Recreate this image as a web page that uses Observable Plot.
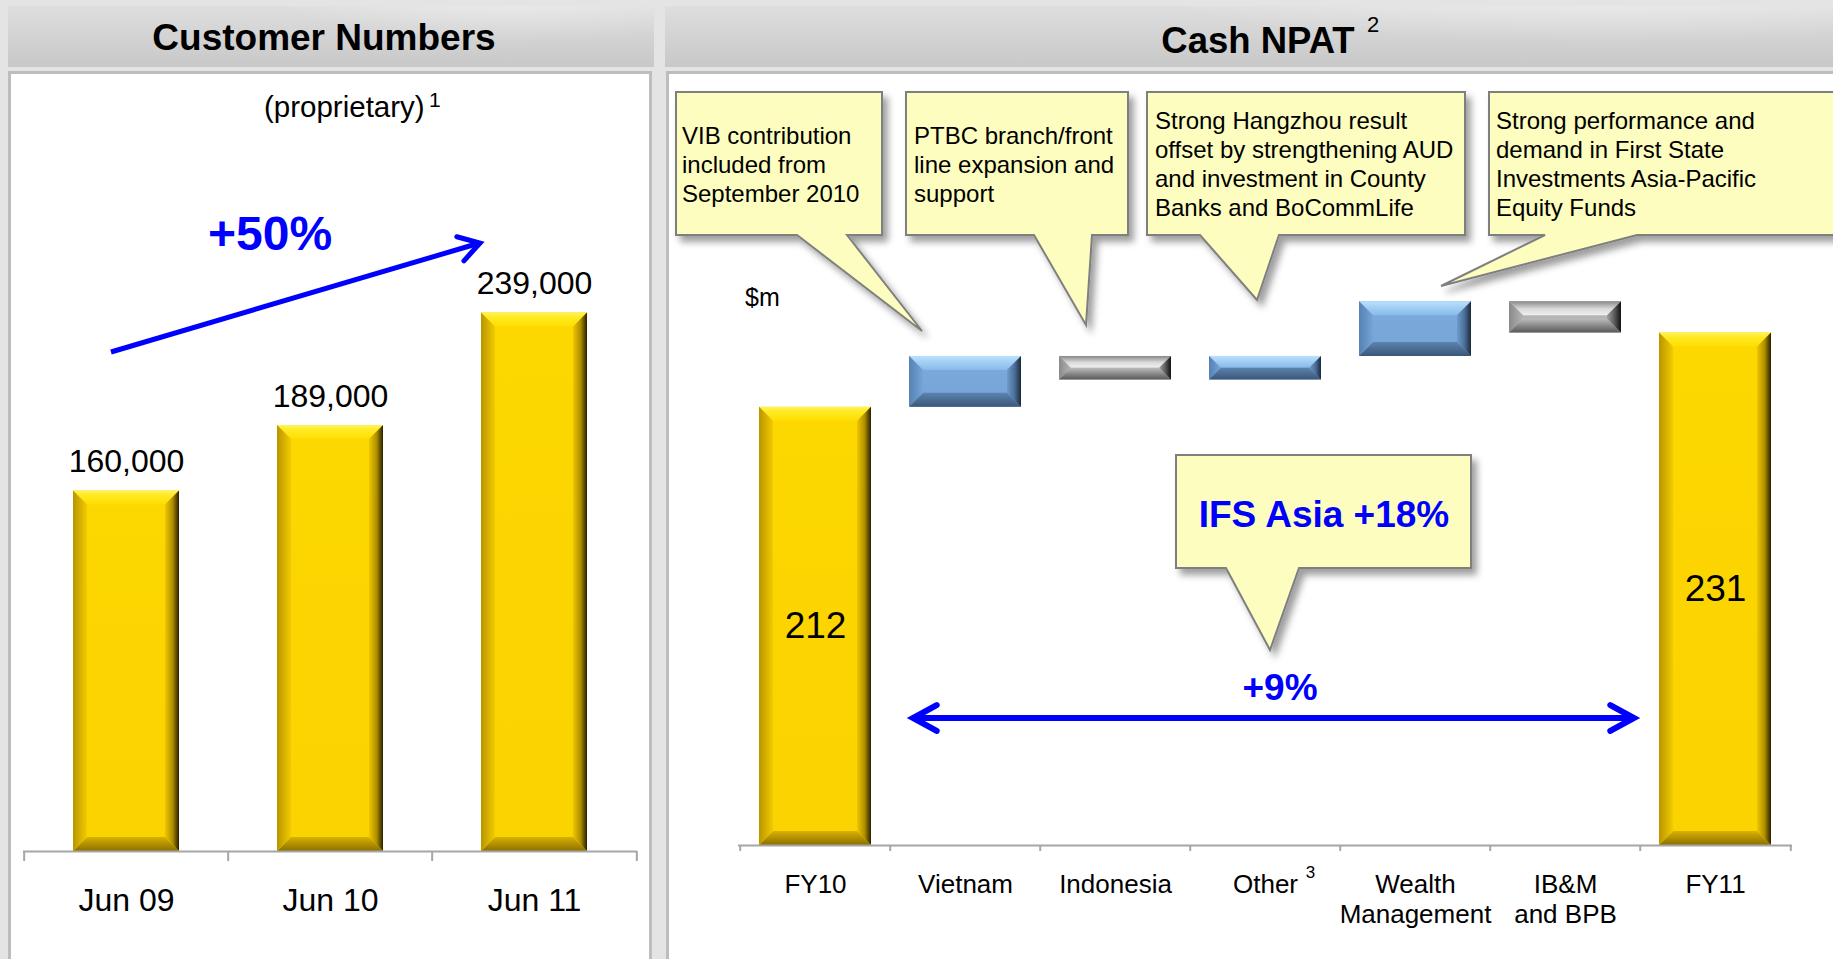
<!DOCTYPE html>
<html>
<head>
<meta charset="utf-8">
<script src="https://cdn.jsdelivr.net/npm/d3@7"></script>
<script src="https://cdn.jsdelivr.net/npm/@observablehq/plot@0.6"></script>
<style>
html, body { margin: 0; padding: 0; }
body { width: 1833px; height: 959px; background: #e4e4e4; position: relative; overflow: hidden;
       font-family: "Liberation Sans", Arial, sans-serif; }
.hdr { position: absolute; top: 6px; height: 61px;
       background: radial-gradient(ellipse 55% 130% at 78% -30%, rgba(255,255,255,0.45), rgba(255,255,255,0) 70%),
                   linear-gradient(#dedede, #c8c8c8); }
.panel { position: absolute; top: 71px; height: 920px; background: #fff; border: 3px solid #bdbdbd; box-sizing: border-box; }
.layer { position: absolute; top: 0; }
</style>
</head>
<body>
<div class="hdr" style="left:8px;width:646px;"></div>
<div class="hdr" style="left:665px;width:1200px;"></div>
<div class="panel" style="left:8px;width:644px;"></div>
<div class="panel" style="left:666px;width:1200px;"></div>
<script>
// ---------------- data ----------------
const customerPeriods = ["Jun 09", "Jun 10", "Jun 11"];
const customerCounts = [160000, 189000, 239000];

const npatCategories = ["FY10", "Vietnam", "Indonesia", "Other", "Wealth Management", "IB&M and BPB", "FY11"];
const npatTickLabels = ["FY10", "Vietnam", "Indonesia", "Other", "Wealth\nManagement", "IB&M\nand BPB", "FY11"];
const npatValues = [212, 13, -6, 6, 14, -8, 231];
const npatIsTotal = [true, false, false, false, false, false, true];

const calloutTexts = [
  ["VIB contribution", "included from", "September 2010"],
  ["PTBC branch/front", "line expansion and", "support"],
  ["Strong Hangzhou result", "offset by strengthening AUD", "and investment in County", "Banks and BoCommLife"],
  ["Strong performance and", "demand in First State", "Investments Asia-Pacific", "Equity Funds"]
];

// ---------------- shared defs ----------------
const FONT = '"Liberation Sans", Arial, sans-serif';
const defsSvg = d3.select("body").append("svg").attr("width", 1).attr("height", 1)
  .style("position", "absolute").style("left", 0).style("top", 0);
const defs = defsSvg.append("defs");
function lg(id, horizontal, stops) {
  const g = defs.append("linearGradient").attr("id", id)
    .attr("x1", 0).attr("y1", 0).attr("x2", horizontal ? 1 : 0).attr("y2", horizontal ? 0 : 1);
  stops.forEach(([o, c]) => g.append("stop").attr("offset", o).attr("stop-color", c));
}
const palettes = {
  gold: {
    face: [[0, "#FDD700"], [1, "#FBD300"]],
    top: [[0, "#FFF35C"], [0.35, "#FFEA22"], [1, "#FFDE00"]],
    left: [[0, "#B89500"], [1, "#F2CB00"]],
    right: [[0, "#EEC700"], [0.55, "#AE8D00"], [1, "#282000"]],
    bottom: [[0, "#D8B200"], [1, "#8C6F00"]]
  },
  blue: {
    face: [[0, "#7CAADC"], [1, "#76A4D7"]],
    top: [[0, "#BCE0FB"], [0.4, "#A5D1F6"], [1, "#88BAE9"]],
    left: [[0, "#5581B4"], [1, "#77A5D8"]],
    right: [[0, "#6E9BCD"], [0.55, "#4A6D96"], [1, "#1B293A"]],
    bottom: [[0, "#5D83AF"], [1, "#3A5778"]]
  },
  gray: {
    face: [[0, "#C4C4C4"], [1, "#A6A6A6"]],
    top: [[0, "#878787"], [0.55, "#DADADA"], [1, "#F0F0F0"]],
    left: [[0, "#8A8A8A"], [1, "#B4B4B4"]],
    right: [[0, "#A0A0A0"], [0.55, "#575757"], [1, "#121212"]],
    bottom: [[0, "#BDBDBD"], [0.5, "#8A8A8A"], [1, "#5A5A5A"]]
  }
};
for (const [name, p] of Object.entries(palettes)) {
  lg(`${name}-face`, false, p.face);
  lg(`${name}-top`, false, p.top);
  lg(`${name}-left`, true, p.left);
  lg(`${name}-right`, true, p.right);
  lg(`${name}-bottom`, false, p.bottom);
}
const shadow = defs.append("filter").attr("id", "callout-shadow")
  .attr("x", "-10%").attr("y", "-10%").attr("width", "130%").attr("height", "140%");
shadow.append("feDropShadow").attr("dx", 5).attr("dy", 6).attr("stdDeviation", 3.5)
  .attr("flood-color", "#000").attr("flood-opacity", 0.38);

// bevel post-processing of the bars drawn by Plot (index = order of the bar marks)
function bevelize(svg, markIndex, name, maxBevel) {
  const group = d3.select(svg).selectAll('g[aria-label="bar"]').nodes()[markIndex];
  if (!group) return;
  d3.select(group).selectAll("rect").each(function () {
    const r = d3.select(this);
    const x = +r.attr("x"), y = +r.attr("y"), w = +r.attr("width"), h = +r.attr("height");
    if (![x, y, w, h].every(Number.isFinite)) return;
    const b = Math.min(maxBevel, h / 2, w / 2);
    r.attr("fill", `url(#${name}-face)`);
    const parent = d3.select(this.parentNode);
    const poly = (pts, fill) => parent.append("polygon")
      .attr("points", pts.map(p => p.join(",")).join(" ")).attr("fill", fill);
    poly([[x, y], [x + w, y], [x + w - b, y + b], [x + b, y + b]], `url(#${name}-top)`);
    poly([[x, y + h], [x + w, y + h], [x + w - b, y + h - b], [x + b, y + h - b]], `url(#${name}-bottom)`);
    poly([[x, y], [x + b, y + b], [x + b, y + h - b], [x, y + h]], `url(#${name}-left)`);
    poly([[x + w, y], [x + w - b, y + b], [x + w - b, y + h - b], [x + w, y + h]], `url(#${name}-right)`);
  });
}

// ---------------- left chart: customer numbers ----------------
const custRows = customerPeriods.map((p, i) => ({period: p, value: customerCounts[i]}));
const L = {width: 660, height: 959, ml: 23, mr: 23, mt: 175, mb: 108, max: 300000};
const custTick = 10 * L.max / (L.height - L.mt - L.mb);
const custStep = (L.width - L.ml - L.mr) / customerPeriods.length;
const leftPlot = Plot.plot({
  width: L.width, height: L.height,
  marginLeft: L.ml, marginRight: L.mr, marginTop: L.mt, marginBottom: L.mb,
  style: {background: "transparent", fontFamily: FONT, color: "#000", overflow: "visible"},
  x: {domain: customerPeriods, paddingInner: 0.48, paddingOuter: 0.24},
  y: {domain: [0, L.max], axis: null},
  marks: [
    Plot.barY(custRows, {x: "period", y: "value", fill: "#FDD700"}),
    Plot.ruleY([0], {stroke: "#a6a6a6", strokeWidth: 2}),
    Plot.ruleX(customerPeriods, {x: d => d, dx: -custStep / 2, y1: 0, y2: -custTick, stroke: "#a6a6a6", strokeWidth: 2}),
    Plot.ruleX(customerPeriods.slice(-1), {x: d => d, dx: custStep / 2, y1: 0, y2: -custTick, stroke: "#a6a6a6", strokeWidth: 2}),
    Plot.text(custRows, {x: "period", y: "value", text: d => d3.format(",")(d.value), dy: -29, fontSize: 32, fill: "#000"}),
    Plot.axisX({tickSize: 0, tickPadding: 37, fontSize: 32, label: null})
  ]
});
leftPlot.classList.add("layer");
leftPlot.style.left = "0px";
document.body.appendChild(leftPlot);
bevelize(leftPlot, 0, "gold", 14);

// ---------------- right chart: cash NPAT waterfall ----------------
const npatBase = 100; // truncated axis origin
let running = 0;
const npatRows = npatCategories.map((c, i) => {
  const v = npatValues[i];
  let y1, y2, kind;
  if (npatIsTotal[i]) { y1 = npatBase; y2 = v; running = v; kind = "total"; }
  else { y1 = running; y2 = running + v; running += v; kind = v >= 0 ? "up" : "down"; }
  return {cat: c, value: v, y1, y2, kind};
});
const tickLabelOf = new Map(npatCategories.map((c, i) => [c, npatTickLabels[i]]));
const R = {width: 1173, height: 959, ml: 78, mr: 41, mt: 219, mb: 114, max: 260};
const npatTick = 6 * (R.max - npatBase) / (R.height - R.mt - R.mb);
const npatStep = (R.width - R.ml - R.mr) / npatCategories.length;
const rightPlot = Plot.plot({
  width: R.width, height: R.height,
  marginLeft: R.ml, marginRight: R.mr, marginTop: R.mt, marginBottom: R.mb,
  style: {background: "transparent", fontFamily: FONT, color: "#000", overflow: "visible"},
  x: {domain: npatCategories, paddingInner: 0.256, paddingOuter: 0.128},
  y: {domain: [npatBase, R.max], axis: null},
  marks: [
    Plot.barY(npatRows.filter(d => d.kind === "total"), {x: "cat", y1: "y1", y2: "y2", fill: "#FDD700"}),
    Plot.barY(npatRows.filter(d => d.kind === "up"), {x: "cat", y1: "y1", y2: "y2", fill: "#7CAADC"}),
    Plot.barY(npatRows.filter(d => d.kind === "down"), {x: "cat", y1: "y1", y2: "y2", fill: "#B0B0B0"}),
    Plot.ruleY([npatBase], {stroke: "#a6a6a6", strokeWidth: 2}),
    Plot.ruleX(npatCategories, {x: d => d, dx: -npatStep / 2, y1: npatBase, y2: npatBase - npatTick, stroke: "#a6a6a6", strokeWidth: 2}),
    Plot.ruleX(npatCategories.slice(-1), {x: d => d, dx: npatStep / 2, y1: npatBase, y2: npatBase - npatTick, stroke: "#a6a6a6", strokeWidth: 2}),
    Plot.text(npatRows.filter(d => d.kind === "total"), {x: "cat", y: d => (d.y1 + d.y2) / 2, text: d => String(d.value), fontSize: 37, fill: "#000"}),
    Plot.axisX({tickSize: 0, tickPadding: 26, fontSize: 26, lineHeight: 1.15, label: null, tickFormat: d => tickLabelOf.get(d)}),
    Plot.text(["3"], {x: () => "Other", y: () => npatBase, text: d => d, dx: 45, dy: 27, fontSize: 17, fill: "#000"})
  ]
});
rightPlot.classList.add("layer");
rightPlot.style.left = "660px";
document.body.appendChild(rightPlot);
bevelize(rightPlot, 0, "gold", 14);
bevelize(rightPlot, 1, "blue", 14);
bevelize(rightPlot, 2, "gray", 14);

// ---------------- overlay: titles, callouts, annotations ----------------
const ov = d3.select("body").append("svg").attr("class", "layer")
  .attr("width", 1833).attr("height", 959).style("left", "0px")
  .style("font-family", FONT).style("pointer-events", "none");
function txt(x, y, s, size, opts = {}) {
  return ov.append("text").attr("x", x).attr("y", y).text(s)
    .attr("font-size", size).attr("font-weight", opts.bold ? "bold" : null)
    .attr("text-anchor", opts.anchor || "start").attr("fill", opts.fill || "#000");
}
// titles
txt(324, 50, "Customer Numbers", 37, {bold: true, anchor: "middle"});
txt(1258, 53, "Cash NPAT", 36.5, {bold: true, anchor: "middle"});
txt(1367, 32, "2", 22);
txt(264, 117, "(proprietary)", 29.5);
txt(429, 107, "1", 21);
txt(745, 306, "$m", 25);

// callouts
const CALLOUT_FILL = "#FDFDBF", CALLOUT_STROKE = "#7f7f7f";
const calloutPaths = [
  "M676,92 H882 V235 H847 L922,331 L797,235 H676 Z",
  "M906,92 H1128 V235 H1092 L1086,325 L1034,235 H906 Z",
  "M1147,92 H1465 V235 H1279 L1257,300 L1200,235 H1147 Z",
  "M1489,92 H1850 V235 H1637 L1441,286 L1545,235 H1489 Z",
  "M1176,455 H1471 V568 H1299 L1270,650 L1226,568 H1176 Z"
];
calloutPaths.forEach(d => ov.append("path").attr("d", d).attr("fill", CALLOUT_FILL)
  .attr("stroke", CALLOUT_STROKE).attr("stroke-width", 2).attr("filter", "url(#callout-shadow)"));
const calloutX = [682, 914, 1155, 1496];
const calloutFirstBaseline = [144, 144, 129, 129];
calloutTexts.forEach((lines, i) => lines.forEach((s, j) =>
  txt(calloutX[i], calloutFirstBaseline[i] + j * 29, s, 24)));
const BLUE = "#0000FF";
txt(1324, 527, "IFS Asia +18%", 37, {bold: true, anchor: "middle", fill: BLUE});
txt(1280, 700, "+9%", 37, {bold: true, anchor: "middle", fill: BLUE});
txt(208, 250, "+50%", 48, {bold: true, fill: BLUE});

// arrows
function head(x, y, ang, len, spread, sw) {
  const a1 = ang + Math.PI - spread, a2 = ang + Math.PI + spread;
  ov.append("path")
    .attr("d", `M${x + len * Math.cos(a1)},${y + len * Math.sin(a1)} L${x},${y} L${x + len * Math.cos(a2)},${y + len * Math.sin(a2)}`)
    .attr("fill", "none").attr("stroke", BLUE).attr("stroke-width", sw)
    .attr("stroke-linecap", "round").attr("stroke-linejoin", "miter");
}
ov.append("line").attr("x1", 111).attr("y1", 352).attr("x2", 478).attr("y2", 243.5)
  .attr("stroke", BLUE).attr("stroke-width", 5);
head(480, 243, Math.atan2(243 - 352, 480 - 111), 24, 0.55, 5);
ov.append("line").attr("x1", 915).attr("y1", 718).attr("x2", 1632).attr("y2", 718)
  .attr("stroke", BLUE).attr("stroke-width", 6);
head(913, 718, Math.PI, 27, 0.5, 6);
head(1634, 718, 0, 27, 0.5, 6);
</script>
</body>
</html>
